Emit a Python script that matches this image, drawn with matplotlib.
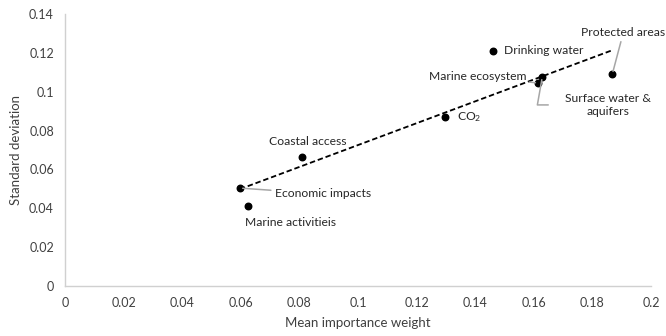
import numpy as np
import matplotlib.pyplot as plt

# values
labels = ["Drinking water", "Protected areas", "Surface water &\naquifers",
          "Marine ecosystem", "CO$_2$", "Coastal access",
          "Economic impacts", "Marine activitieis"]
mean_weight = [0.1460, 0.1868, 0.1629, 0.1615, 0.1297, 0.0809, 0.0597, 0.0625]
std_dev = [0.1210, 0.1091, 0.1076, 0.1045, 0.0870, 0.0664, 0.0504, 0.0412]

x_ticks = [0, 0.02, 0.04, 0.06, 0.08, 0.1, 0.12, 0.14, 0.16, 0.18, 0.2]
y_ticks = [0, 0.02, 0.04, 0.06, 0.08, 0.1, 0.12, 0.14]


def fmt(v):
    return "0" if v == 0 else f"{v:g}"


plt.rcParams["font.family"] = ["Lato", "DejaVu Sans"]
plt.rcParams["mathtext.default"] = "regular"

fig = plt.figure(figsize=(6.66, 3.36), dpi=100)
ax = fig.add_axes([65 / 666, 50 / 336, 586 / 666, 272 / 336])

x = np.array(mean_weight)
y = np.array(std_dev)
ax.scatter(x, y, s=22, color="black", zorder=3)

# linear trendline over the data range
slope, intercept = np.polyfit(x, y, 1)
xs = np.array([x.min(), x.max()])
ax.plot(xs, slope * xs + intercept, color="black", lw=1.3, ls=(0, (3, 1.6)), zorder=2)

lead = dict(arrowstyle="-", color="#a6a6a6", lw=1.1, shrinkB=2)
txt = dict(fontsize=8.7, color="#262626", va="center")

ax.annotate(labels[0], (x[0], y[0]), xytext=(0.1498, y[0]), ha="left", **txt)
ax.annotate(labels[1], (x[1], y[1]), xytext=(0.1906, 0.1307), ha="center",
            arrowprops=dict(lead, shrinkA=1), **txt)
ax.annotate(labels[2], (x[2], y[2]), xytext=(0.1853, 0.0932), ha="center",
            multialignment="center", linespacing=1.3,
            arrowprops=dict(lead, shrinkA=10,
                            connectionstyle="angle,angleA=0,angleB=80,rad=0"),
            **txt)
ax.annotate(labels[3], (x[3], y[3]), xytext=(0.1575, 0.1076), ha="right",
            arrowprops=dict(lead, shrinkA=0), **txt)
ax.annotate(labels[4], (x[4], y[4]), xytext=(0.1338, 0.0870), ha="left", **txt)
ax.annotate(labels[5], (x[5], y[5]), xytext=(0.0829, 0.0746), ha="center", **txt)
ax.annotate(labels[6], (x[6], y[6]), xytext=(0.0717, 0.0474), ha="left",
            arrowprops=dict(lead, shrinkA=1), **txt)
ax.annotate(labels[7], (x[7], y[7]), xytext=(0.0614, 0.0329), ha="left", **txt)

ax.set_xlim(0, 0.2)
ax.set_ylim(0, 0.14)
ax.set_xticks(x_ticks)
ax.set_xticklabels([fmt(v) for v in x_ticks])
ax.set_yticks(y_ticks)
ax.set_yticklabels([fmt(v) for v in y_ticks])
ax.tick_params(length=0, labelsize=9, labelcolor="#404040", pad=8)

for side in ["top", "right"]:
    ax.spines[side].set_visible(False)
for side in ["left", "bottom"]:
    ax.spines[side].set_color("#d0d0d0")
    ax.spines[side].set_linewidth(1)

ax.set_xlabel("Mean importance weight", fontsize=9.5, color="#404040", labelpad=6)
ax.set_ylabel("Standard deviation", fontsize=9.5, color="#404040", labelpad=5)

fig.savefig("out.png", dpi=100)
